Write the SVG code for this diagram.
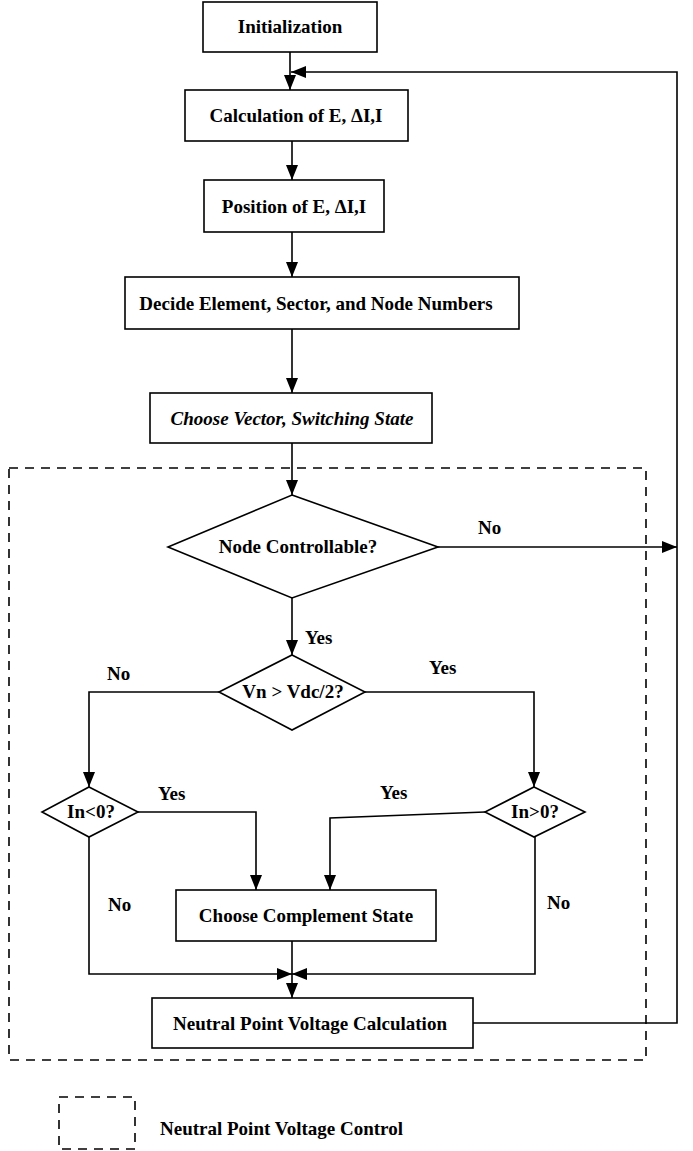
<svg xmlns="http://www.w3.org/2000/svg" width="693" height="1151" viewBox="0 0 693 1151">
<style>
.box{fill:#fff;stroke:#000;stroke-width:1.6}
.t{font-family:"Liberation Serif",serif;font-weight:bold;font-size:19px;fill:#000}
.c{text-anchor:middle}
.ln{fill:none;stroke:#000;stroke-width:1.6}
.dash{fill:none;stroke:#000;stroke-width:1.6;stroke-dasharray:9,7}
</style>
<defs>
<marker id="ah" markerWidth="16" markerHeight="12" refX="15" refY="6" orient="auto" markerUnits="userSpaceOnUse">
<path d="M0,0 L15,6 L0,12 Z" fill="#000"/>
</marker>
</defs>
<rect class="dash" x="9" y="468" width="637" height="592"/>
<g id="connectors">
<line class="ln" x1="290" y1="52" x2="290" y2="90" marker-end="url(#ah)"/>
<polyline class="ln" points="473,1023 677,1023 677,72 291,72" marker-end="url(#ah)"/>
<line class="ln" x1="292" y1="141" x2="292" y2="180" marker-end="url(#ah)"/>
<line class="ln" x1="292" y1="232" x2="292" y2="277" marker-end="url(#ah)"/>
<line class="ln" x1="292" y1="329" x2="292" y2="393" marker-end="url(#ah)"/>
<line class="ln" x1="292" y1="443" x2="292" y2="495" marker-end="url(#ah)"/>
<line class="ln" x1="438" y1="547" x2="677" y2="547" marker-end="url(#ah)"/>
<line class="ln" x1="292" y1="598" x2="292" y2="655" marker-end="url(#ah)"/>
<polyline class="ln" points="219,692 89,692 89,787" marker-end="url(#ah)"/>
<polyline class="ln" points="365,692 534,692 534,787" marker-end="url(#ah)"/>
<polyline class="ln" points="138,812 256,812 256,890" marker-end="url(#ah)"/>
<polyline class="ln" points="485,812 330,818 330,890" marker-end="url(#ah)"/>
<polyline class="ln" points="89,837 89,974 292,974" marker-end="url(#ah)"/>
<polyline class="ln" points="535,837 535,974 292,974" marker-end="url(#ah)"/>
<line class="ln" x1="292" y1="941" x2="292" y2="998" marker-end="url(#ah)"/>
<text class="t" x="478" y="534">No</text>
<text class="t" x="305" y="644">Yes</text>
<text class="t" x="107" y="680">No</text>
<text class="t" x="429" y="674">Yes</text>
<text class="t" x="158" y="800">Yes</text>
<text class="t" x="380" y="799">Yes</text>
<text class="t" x="108" y="911">No</text>
<text class="t" x="547" y="909">No</text>
</g>
<g id="init"><rect class="box" x="203" y="2" width="174" height="50"/><text class="t c" x="290" y="33">Initialization</text></g>
<g id="calc"><rect class="box" x="185" y="90" width="223" height="51"/><text class="t c" x="296" y="122">Calculation of E, ΔI,I</text></g>
<g id="pos"><rect class="box" x="204" y="180" width="180" height="52"/><text class="t c" x="294" y="213">Position of E, ΔI,I</text></g>
<g id="decide"><rect class="box" x="125" y="277" width="394" height="52"/><text class="t c" x="316" y="310">Decide Element, Sector, and Node Numbers</text></g>
<g id="choose"><rect class="box" x="150" y="393" width="282" height="50"/><text class="t c" x="292" y="425" font-style="italic">Choose Vector, Switching State</text></g>
<g id="nodectl"><polygon class="box" points="292,495 438,547 292,598 168,547"/><text class="t c" x="298" y="553">Node Controllable?</text></g>
<g id="vn"><polygon class="box" points="292,655 365,692 292,730 219,692"/><text class="t c" x="293" y="698">Vn &gt; Vdc/2?</text></g>
<g id="inlt"><polygon class="box" points="89,787 138,812 89,837 42,812"/><text class="t c" x="91" y="818">In&lt;0?</text></g>
<g id="ingt"><polygon class="box" points="534,787 585,812 534,837 485,812"/><text class="t c" x="535" y="818">In&gt;0?</text></g>
<g id="comp"><rect class="box" x="176" y="890" width="260" height="51"/><text class="t c" x="306" y="922">Choose Complement State</text></g>
<g id="npv"><rect class="box" x="152" y="998" width="321" height="50"/><text class="t c" x="310" y="1030">Neutral Point Voltage Calculation</text></g>
<g id="legend"><rect class="dash" x="59" y="1097" width="76" height="52" stroke-dasharray="8,6"/><text class="t" x="160" y="1135">Neutral Point Voltage Control</text></g>
</svg>
